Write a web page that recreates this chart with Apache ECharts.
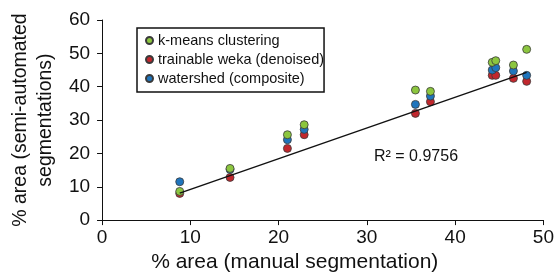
<!DOCTYPE html>
<html>
<head>
<meta charset="utf-8">
<script src="https://cdn.jsdelivr.net/npm/echarts@6/dist/echarts.min.js"></script>
<style>
 html, body { margin: 0; padding: 0; background: #fff; }
 #main { width: 557px; height: 278px; }
</style>
</head>
<body>
<div id="main"></div>
<script>
 // manual % area (x) for each image
 var manual = [8.8, 14.5, 21.0, 22.9, 35.5, 37.2, 44.2, 44.6, 46.6, 48.1];
 // semi-automated % area (y) per method
 var kmeans = [8.6, 15.5, 25.6, 28.6, 39.0, 38.6, 47.3, 47.8, 46.5, 51.2];
 var weka = [8.0, 12.8, 21.5, 25.6, 32.0, 35.5, 43.4, 43.4, 42.5, 41.6];
 var watershed = [11.5, 15.2, 24.1, 27.2, 34.7, 37.2, 45.0, 45.7, 44.7, 43.4];
 // regression line end points
 var fitX = [8.8, 48.1];
 var fitY = [8.1, 44.3];
 var xTicks = [0, 10, 20, 30, 40, 50];
 var yTicks = [0, 10, 20, 30, 40, 50, 60];

 function pairs(xs, ys) {
   return xs.map(function (x, i) { return [x, ys[i]]; });
 }

 var font = 'Liberation Sans, Arial, sans-serif';
 var dot = function (name, color, ys, z) {
   return {
     name: name,
     type: 'scatter',
     symbol: 'circle',
     symbolSize: 8,
     z: z,
     itemStyle: { color: color, borderColor: '#3a3a3a', borderWidth: 0.8, opacity: 1 },
     data: pairs(manual, ys)
   };
 };

 var myChart = echarts.init(document.getElementById('main'));
 var option = {
   animation: false,
   textStyle: { fontFamily: font },
   grid: { left: 99, right: 12, top: 20, bottom: 51 },
   legend: {
     data: ['k-means clustering', 'trainable weka (denoised)', 'watershed (composite)'],
     orient: 'vertical',
     left: 137,
     top: 28,
     icon: 'circle',
     itemWidth: 7,
     itemHeight: 7,
     itemGap: 2,
     padding: [4, 0, 5, 8],
     borderColor: '#111',
     borderWidth: 1.5,
     textStyle: { fontSize: 14.5, color: '#111', lineHeight: 17, fontFamily: font }
   },
   xAxis: {
     type: 'value',
     min: xTicks[0],
     max: xTicks[xTicks.length - 1],
     interval: 10,
     name: '% area (manual segmentation)',
     nameLocation: 'middle',
     nameGap: 30,
     nameTextStyle: { fontSize: 21, color: '#111', padding: [0, 56, 0, 0] },
     splitLine: { show: false },
     axisLine: { lineStyle: { color: '#111', width: 1 } },
     axisTick: { length: 5, lineStyle: { color: '#111' } },
     axisLabel: { fontSize: 19, color: '#111', margin: 8 }
   },
   yAxis: {
     type: 'value',
     min: yTicks[0],
     max: yTicks[yTicks.length - 1],
     interval: 10,
     name: '% area (semi-automated\nsegmentations)',
     nameLocation: 'middle',
     nameGap: 40,
     nameTextStyle: { fontSize: 19.5, color: '#111', lineHeight: 25 },
     splitLine: { show: false },
     axisLine: { show: true, lineStyle: { color: '#111', width: 1 } },
     axisTick: { show: true, length: 5, lineStyle: { color: '#111' } },
     axisLabel: { fontSize: 19, color: '#111', margin: 12 }
   },
   graphic: [{
     type: 'text',
     left: 374,
     top: 149,
     style: { text: 'R² = 0.9756', font: '16px ' + font, fill: '#111' }
   }],
   series: [
     dot('trainable weka (denoised)', '#c1272d', weka, 2),
     dot('watershed (composite)', '#1f75bd', watershed, 3),
     dot('k-means clustering', '#8cc63f', kmeans, 4),
     {
       name: 'fit',
       type: 'line',
       z: 5,
       silent: true,
       symbol: 'none',
       lineStyle: { color: '#111', width: 1.5 },
       data: pairs(fitX, fitY)
     }
   ]
 };
 myChart.setOption(option);
</script>
</body>
</html>
